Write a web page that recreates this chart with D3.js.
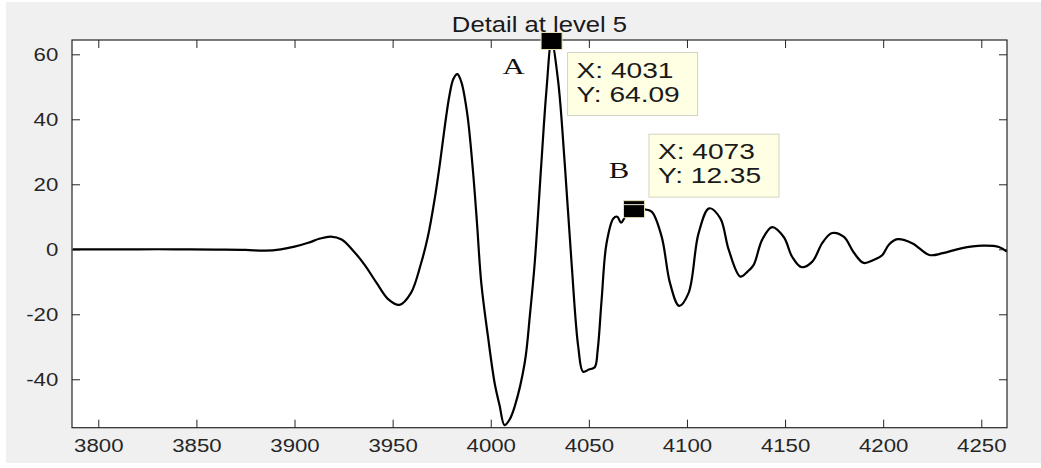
<!DOCTYPE html>
<html>
<head>
<meta charset="utf-8">
<script src="https://cdn.jsdelivr.net/npm/d3@7"></script>
<style>
  html, body { margin: 0; padding: 0; background: #ffffff; }
  svg { display: block; }
</style>
</head>
<body>
<svg id="chart" width="1041" height="468"></svg>
<script>
// ---- data ----
const sampleX = [3787, 3800, 3820, 3840, 3860, 3875, 3885, 3893, 3900, 3907, 3913, 3918.5, 3924, 3930, 3936, 3942, 3948, 3953.5,
  3959.3, 3964.5, 3968, 3971.3, 3974, 3976.4, 3979, 3981, 3983, 3985, 3988, 3990.9, 3993, 3995.2, 3998.6, 4002, 4004.5, 4007, 4009.5,
  4012.2, 4017.3, 4020, 4022.4, 4025.8, 4028.4, 4031, 4034.3, 4037.7, 4041.2, 4044.6, 4047.1, 4050, 4053, 4054.5, 4056.5, 4059,
  4062.5, 4064.5, 4066.4, 4069, 4073, 4078, 4082, 4087.1, 4091.4, 4096, 4100.8, 4105.9, 4111.3, 4117, 4121.3, 4127.2, 4131, 4134,
  4138.3, 4143.4, 4149.4, 4153.6, 4158.4, 4163.9, 4169, 4174, 4180, 4185, 4190, 4195, 4199.6, 4203, 4207.3, 4215, 4223.5, 4230.4,
  4239.7, 4250.7, 4259, 4263];
const sampleY = [0, 0, 0, 0, -0.1, -0.2, -0.4, 0, 0.8, 2.0, 3.3, 3.9, 3.0, -0.5, -5, -10.5, -15.5, -17.1,
  -13.5, -4.3, 4, 15, 26, 37, 47.5, 52.5, 53.9, 51.5, 41.8, 24.4, 8, -10.5, -26.9, -41.2, -48, -54.1, -52.5,
  -48.4, -35, -20, -4.3, 26.5, 49, 64.09, 52, 26.5, -4.3, -30, -37.7, -37, -36.3, -31, -15.6, 1.8,
  9.5, 10, 8.2, 10.5, 12.35, 12.3, 11.6, 3.9, -10.5, -17.4, -13.5, 4.9, 12.6, 9.5, -0.2, -8.4, -6.8, -4.8,
  2.9, 6.8, 3.7, -2.3, -5.5, -3.8, 2, 5.0, 3.8, -1, -4.2, -3.3, -1.75, 1.5, 3.1, 1.8, -1.75, -1.2,
  0.3, 1.1, 0.7, -0.7];
const xTicks = [3800, 3850, 3900, 3950, 4000, 4050, 4100, 4150, 4200, 4250];
const yTicks = [-40, -20, 0, 20, 40, 60];
const xDomain = [3786.6, 4263.1];
const yDomain = [-54.9, 64.4];
const tipX = [4031, 4073];
const tipY = [64.09, 12.35];
const tipNames = ["A", "B"];
const titleText = "Detail at level 5";

// ---- layout ----
const svg = d3.select("#chart");
const L = 72, R = 1007, T = 40, B = 427.7;
const axisColor = "#262626";
const sans = "'Liberation Sans', Arial, Helvetica, sans-serif";
const serif = "'Liberation Serif', 'Times New Roman', serif";

// backgrounds
svg.append("rect").attr("x", 6).attr("y", 2).attr("width", 1035).attr("height", 461).attr("fill", "#f0f0f0");
svg.append("rect").attr("x", L).attr("y", T).attr("width", R - L).attr("height", B - T).attr("fill", "#ffffff");

const x = d3.scaleLinear().domain(xDomain).range([L, R]);
const y = d3.scaleLinear().domain(yDomain).range([B, T]);

function stretchText(sel, sx) {
  sel.each(function () {
    const t = d3.select(this);
    const xv = +(t.attr("x") || 0);
    t.attr("x", xv / sx).attr("transform", `scale(${sx},1)`);
  });
}

const fmt = d => String(d);

// axes
const gx = svg.append("g").attr("transform", `translate(0,${B})`)
  .call(d3.axisBottom(x).tickValues(xTicks).tickSizeInner(-8).tickSizeOuter(0).tickPadding(11).tickFormat(fmt));
const gy = svg.append("g").attr("transform", `translate(${L},0)`)
  .call(d3.axisLeft(y).tickValues(yTicks).tickSizeInner(-8).tickSizeOuter(0).tickPadding(13.7).tickFormat(fmt));
const gxt = svg.append("g").attr("transform", `translate(0,${T})`)
  .call(d3.axisTop(x).tickValues(xTicks).tickSizeInner(-8).tickSizeOuter(0).tickFormat(""));
const gyr = svg.append("g").attr("transform", `translate(${R},0)`)
  .call(d3.axisRight(y).tickValues(yTicks).tickSizeInner(-8).tickSizeOuter(0).tickFormat(""));

[gx, gy, gxt, gyr].forEach(g => {
  g.select(".domain").remove();
  g.selectAll(".tick line").attr("stroke", axisColor).attr("stroke-width", 1);
  g.selectAll(".tick text").attr("fill", axisColor).attr("font-family", sans).attr("font-size", 18.5);
});
stretchText(gx.selectAll(".tick text"), 1.2);
stretchText(gy.selectAll(".tick text"), 1.2);

// curve
const pts = sampleX.map((d, i) => [d, sampleY[i]]);
const line = d3.line().x(d => x(d[0])).y(d => y(d[1])).curve(d3.curveCatmullRom.alpha(0.5));
svg.append("path").datum(pts).attr("d", line)
  .attr("fill", "none").attr("stroke", "#000").attr("stroke-width", 2.2).attr("stroke-linejoin", "round");

// frame
svg.append("rect").attr("x", L).attr("y", T).attr("width", R - L).attr("height", B - T)
  .attr("fill", "none").attr("stroke", axisColor).attr("stroke-width", 1.2);

// title
svg.append("text").attr("x", 0).attr("y", 32.3)
  .attr("transform", `translate(${(L + R) / 2},0) scale(1.14,1)`)
  .attr("text-anchor", "middle").attr("font-family", sans).attr("font-size", 22.5).attr("fill", "#1a1a1a")
  .text(titleText);

// data tips
const boxOff = [{ dx: 16, dy: 11.5 }, { dx: 15, dy: -75 }];
const nameOff = [{ dx: -38, dy: 32.5 }, { dx: -15, dy: -31.5 }];
tipX.forEach((tx, i) => {
  const cx = x(tx), cy = y(tipY[i]);
  const g = svg.append("g");
  const bx = cx + boxOff[i].dx, by = cy + boxOff[i].dy;
  g.append("rect").attr("x", bx).attr("y", by).attr("width", 130).attr("height", 63)
    .attr("fill", "#ffffe3").attr("stroke", "#d4d4c4").attr("stroke-width", 1);
  g.append("text").attr("x", 0).attr("y", 0)
    .attr("transform", `translate(${bx + 9},${by + 25}) scale(1.25,1)`)
    .attr("font-family", sans).attr("font-size", 22.5).attr("fill", "#1a1a1a")
    .text(`X: ${tx}`);
  g.append("text").attr("x", 0).attr("y", 0)
    .attr("transform", `translate(${bx + 9},${by + 49.2}) scale(1.25,1)`)
    .attr("font-family", sans).attr("font-size", 22.5).attr("fill", "#1a1a1a")
    .text(`Y: ${d3.format(".2f")(tipY[i])}`);
  // marker
  g.append("rect").attr("x", cx - 10.5).attr("y", cy - 8.5).attr("width", 21).attr("height", 17)
    .attr("fill", "#000").attr("stroke", "#e4e2b8").attr("stroke-width", 1);
  if (i === 1) {
    g.append("line").attr("x1", cx - 10).attr("x2", cx + 10).attr("y1", cy - 4.5).attr("y2", cy - 4.5)
      .attr("stroke", "#e8e8d8").attr("stroke-width", 1);
  }
  // letter label
  svg.append("text").attr("x", 0).attr("y", 0)
    .attr("transform", `translate(${cx + nameOff[i].dx},${cy + nameOff[i].dy}) scale(1.28,1)`)
    .attr("text-anchor", "middle").attr("font-family", serif).attr("font-size", 24).attr("fill", "#111")
    .text(tipNames[i]);
});
</script>
</body>
</html>
